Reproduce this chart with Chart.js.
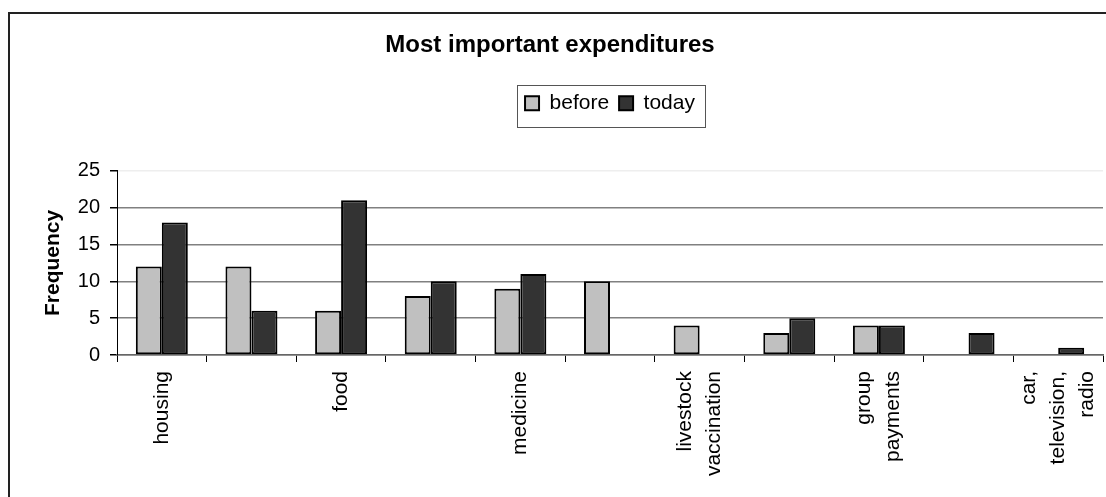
<!DOCTYPE html>
<html>
<head>
<meta charset="utf-8">
<script src="https://cdn.jsdelivr.net/npm/chart.js@4.4.0/dist/chart.umd.min.js"></script>
<style>
  html, body { margin: 0; padding: 0; background: #fff; }
  #frame { position: absolute; left: 8px; top: 12px; width: 1110px; height: 500px; border: 2px solid #222; }
  #wrap { position: absolute; left: 0; top: 0; width: 1106px; height: 497px; }
</style>
</head>
<body>
<div id="frame"></div>
<div id="wrap"><canvas id="myChart"></canvas></div>
<script>
// categories (only every other label is printed in the original)
var categories = ['housing', '', 'food', '', 'medicine', '', ['livestock', 'vaccination'], '', ['group', 'payments'], '', ['car,', 'television,', 'radio']];
var before = [12, 12, 6, 8, 9, 10, 4, 3, 4, 0, 0];
var today = [18, 6, 21, 10, 11, 0, 0, 5, 4, 3, 1];
var yTicks = [0, 5, 10, 15, 20, 25];

var FONT = "'Liberation Sans', Arial, sans-serif";
var LABEL_LH = 29;

// legend: centre it over the plot, leave a gap below it, box round it
var legendBox = {
    id: 'legendBox',
    beforeLayout: function(chart) {
        var lg = chart.legend;
        if (lg && !lg._gapAdded) {
            var fit = lg.fit;
            lg.fit = function() {
                fit.call(this);
                this.height += 47;
            };
            lg._gapAdded = true;
        }
    },
    afterLayout: function(chart) {
        var lg = chart.legend;
        var shift = ((chart.chartArea.left + chart.chartArea.right) / 2) - ((lg.left + lg.right) / 2);
        lg.left += shift;
        lg.right += shift;
        // title sits in the middle of the whole frame
        var tb = chart.titleBlock;
        var tshift = 550 - (tb.left + tb.right) / 2;
        tb.left += tshift;
        tb.right += tshift;
    },
    beforeDraw: function(chart) {
        // centre multi-line rotated category labels on their tick
        chart.scales.x.getLabelItems().forEach(function(it) {
            var n = Array.isArray(it.label) ? it.label.length : 1;
            it.textOffset = -(n - 1) * LABEL_LH / 2 + LABEL_LH / 2;
        });
    },
    afterDraw: function(chart) {
        var boxes = chart.legend.legendHitBoxes;
        if (!boxes || !boxes.length) return;
        var x1 = boxes[0].left, x2 = boxes[boxes.length - 1].left + boxes[boxes.length - 1].width;
        var y1 = boxes[0].top, y2 = boxes[0].top + boxes[0].height;
        var ctx = chart.ctx;
        ctx.save();
        ctx.strokeStyle = '#555';
        ctx.lineWidth = 1;
        ctx.strokeRect(Math.round(x1 - 8) + 0.5, Math.round(y1 - 8) + 0.5, Math.round(x2 - x1 + 18), Math.round(y2 - y1 + 21));
        ctx.restore();
    }
};

var ctx = document.getElementById('myChart').getContext('2d');
var myChart = new Chart(ctx, {
    type: 'bar',
    data: {
        labels: categories,
        datasets: [{
            label: 'before',
            data: before,
            backgroundColor: '#c0c0c0',
            borderColor: '#000',
            borderWidth: 2,
            borderSkipped: false
        }, {
            label: 'today',
            data: today,
            backgroundColor: '#333333',
            borderColor: '#000',
            borderWidth: 2,
            borderSkipped: false
        }]
    },
    options: {
        responsive: true,
        maintainAspectRatio: false,
        animation: false,
        layout: { padding: { left: 30, right: 3, top: 14, bottom: 0 } },
        datasets: { bar: { categoryPercentage: 0.58, barPercentage: 1 } },
        plugins: {
            title: {
                display: true,
                text: 'Most important expenditures',
                color: '#000',
                font: { family: FONT, size: 24, weight: 'bold' },
                padding: { top: 17, bottom: 23 }
            },
            legend: {
                position: 'top',
                labels: {
                    color: '#000',
                    font: { family: FONT, size: 21 },
                    boxWidth: 14,
                    boxHeight: 14,
                    padding: 10
                }
            },
            tooltip: { enabled: false }
        },
        scales: {
            x: {
                afterFit: function(axis) {
                    axis.height = 142;
                    axis.paddingLeft = 0;
                    axis.paddingRight = 0;
                },
                grid: { drawOnChartArea: false, drawTicks: true, tickLength: 7, tickColor: '#000', offset: true },
                border: { color: '#666', width: 1.5 },
                ticks: {
                    color: '#000',
                    font: { family: FONT, size: 21, lineHeight: LABEL_LH / 21 },
                    minRotation: 90,
                    maxRotation: 90,
                    autoSkip: false,
                    padding: 9
                }
            },
            y: {
                min: 0,
                max: 25,
                afterBuildTicks: function(axis) {
                    axis.ticks = yTicks.map(function(v) { return { value: v }; });
                },
                afterFit: function(axis) {
                    axis.width = 87;
                },
                grid: {
                    color: function(c) { return c.tick && c.tick.value === 25 ? '#eeeeee' : '#808080'; },
                    lineWidth: 1.5,
                    tickLength: 7,
                    tickColor: '#000'
                },
                border: { color: '#000', width: 1 },
                ticks: {
                    color: '#000',
                    font: { family: FONT, size: 20 },
                    padding: 10
                },
                title: {
                    display: true,
                    text: 'Frequency',
                    color: '#000',
                    font: { family: FONT, size: 21, weight: 'bold' },
                    padding: { top: 11, bottom: 0 }
                }
            }
        }
    },
    plugins: [legendBox]
});
</script>
</body>
</html>
